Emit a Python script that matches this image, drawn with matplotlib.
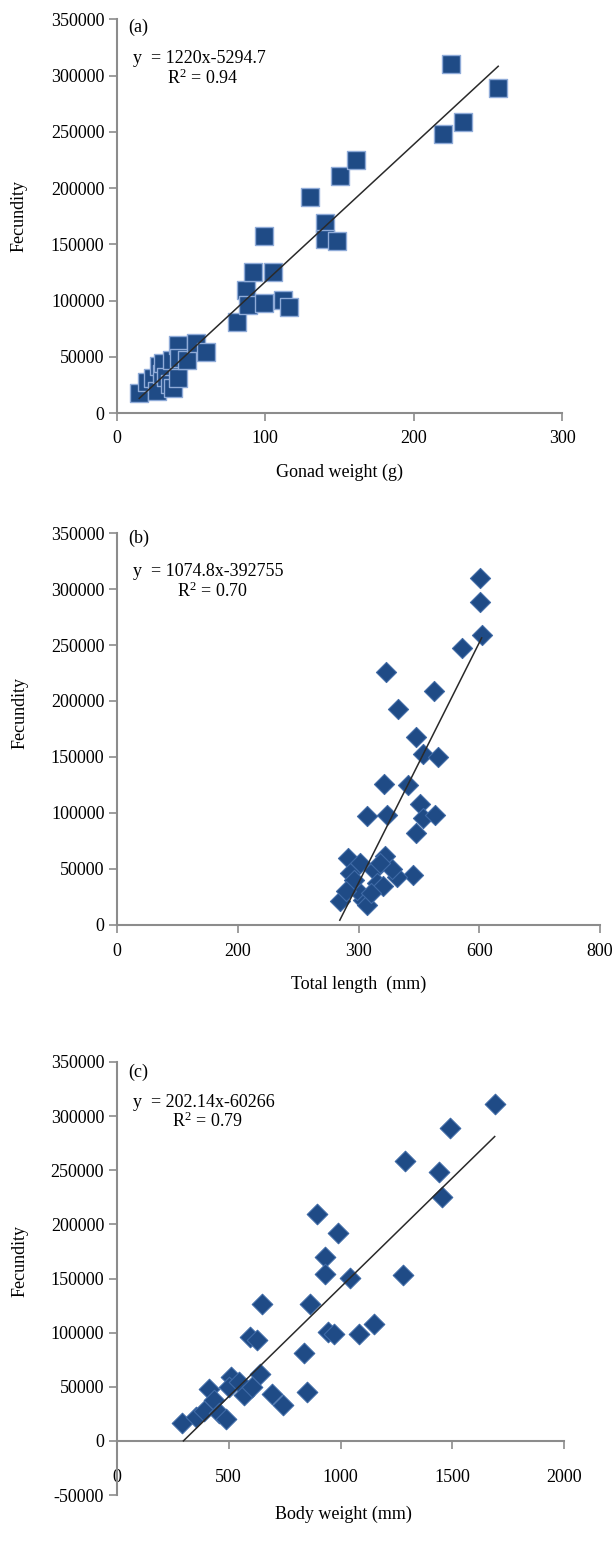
import matplotlib
matplotlib.use('Agg')
import matplotlib.pyplot as plt
import numpy as np

plt.rcParams['font.family'] = ['Liberation Serif', 'DejaVu Serif']
plt.rcParams['mathtext.fontset'] = 'custom'
plt.rcParams['mathtext.rm'] = 'Liberation Serif'
plt.rcParams['mathtext.it'] = 'Liberation Serif:italic'

# ---------------- data ----------------
# (a) Gonad weight (g) vs fecundity
gonad_weight = [15, 20, 24, 27, 28, 30, 31, 33, 36, 37, 38, 41, 41, 42, 47, 53, 60,
                81, 87, 88, 92, 99, 99, 105, 112, 116,
                130, 140, 140, 148, 150, 161, 220, 225, 233, 257]
fec_a = [17500, 28000, 30800, 20000, 42000, 35000, 44100, 32000, 26000, 47000, 22000,
         60400, 31000, 48600, 47000, 62000, 54400,
         81100, 109000, 96000, 125500, 157200, 97400, 125500, 100300, 94400,
         192100, 169000, 155100, 153000, 210700, 225300, 248400, 310500, 258700, 289200]

# (b) Total length (mm) vs fecundity
total_length = [601, 601, 604, 571, 446, 525, 466, 496, 507, 532, 443, 482, 502,
                414, 447, 507, 527, 496, 383, 402, 444, 491, 463, 386, 425, 430,
                369, 408, 397, 441, 414, 420, 455, 392, 435, 380]
fec_b = [309600, 288600, 258900, 247000, 226100, 209200, 192500, 167700, 152800, 150000,
         125400, 124500, 108200, 97000, 98000, 95300, 98200, 81800, 59500, 55000, 61000,
         44200, 42700, 46200, 49200, 37300, 20800, 22300, 31300, 34200, 17000, 28000,
         50000, 40000, 55000, 30000]

# (c) Body weight vs fecundity
body_weight = [292, 354, 391, 413, 435, 457, 487, 509, 501, 546, 568, 605, 597, 627,
               642, 649, 693, 745,
               1689, 1490, 1290, 1442, 1453, 895, 988, 929, 932, 1043, 1280, 863,
               944, 973, 1084, 1150, 838, 852]
fec_c = [16600, 21600, 27700, 48300, 37600, 25300, 20600, 59100, 49800, 54500, 42200,
         49800, 96000, 93000, 62200, 126800, 43700, 33000,
         310800, 289000, 258400, 248300, 225000, 209900, 192300, 169800, 154500, 150800,
         153600, 126800, 100600, 99100, 99100, 107700, 81600, 45200]

# regression equations (slope, intercept) and labels
fit_a = (1220.0, -5294.7)
fit_b = (1074.8, -392755.0)
fit_c = (202.14, -60266.0)
eq_a = ["y  = 1220x-5294.7", "R$^2$ = 0.94"]
eq_b = ["y  = 1074.8x-392755", "R$^2$ = 0.70"]
eq_c = ["y  = 202.14x-60266", "R$^2$ = 0.79"]

xticks_a = [0, 100, 200, 300]
xticklabels_a = ["0", "100", "200", "300"]
xticks_b = [0, 200, 400, 600, 800]
xticklabels_b = ["0", "200", "300", "600", "800"]
xticks_c = [0, 500, 1000, 1500, 2000]
xticklabels_c = ["0", "500", "1000", "1500", "2000"]
yticks_ab = list(range(0, 350001, 50000))
yticks_c = list(range(-50000, 350001, 50000))

# ---------------- style ----------------
W, H = 616, 1550
fig = plt.figure(figsize=(W / 100, H / 100), dpi=100)

AX_COL = '#8c8c8c'
FILL = '#1f4b86'
FS = 13

def px_axes(left, top, right, bottom):
    return fig.add_axes([left / W, 1 - bottom / H, (right - left) / W, (bottom - top) / H])

def style(ax, xticks, xlabels, yticks, xpad):
    for s in ['top', 'right']:
        ax.spines[s].set_visible(False)
    for s in ['left', 'bottom']:
        ax.spines[s].set_color(AX_COL)
        ax.spines[s].set_linewidth(1.5)
    ax.set_xticks(xticks)
    ax.set_xticklabels(xlabels, fontsize=FS)
    ax.set_yticks(yticks)
    ax.set_yticklabels([str(v) for v in yticks], fontsize=FS)
    ax.tick_params(axis='y', direction='out', length=5.5, width=1.2, color=AX_COL, pad=3.5)
    ax.tick_params(axis='x', direction='out', length=5.5, width=1.2, color=AX_COL, pad=xpad)
    ax.set_ylabel('Fecundity', fontsize=FS)

def fit_line(ax, xs, fit):
    m, b = fit
    x0 = max(min(xs), -b / m)
    x1 = max(xs)
    xx = np.array([x0, x1])
    ax.plot(xx, m * xx + b, color='#2a2a2a', lw=1.1, zorder=4)

def eq_text(ax, lines, x1, y1, x2, y2):
    ax.text(x1, y1, lines[0], transform=ax.transAxes, fontsize=FS, va='center', ha='left')
    ax.text(x2, y2, lines[1], transform=ax.transAxes, fontsize=FS, va='center', ha='left')

# ---------------- (a) ----------------
ax = px_axes(117, 19.3, 562, 413)
ax.scatter(gonad_weight, fec_a, marker='s', s=150, c=FILL, edgecolors='#8fabd8',
           linewidths=1.0, zorder=3, clip_on=False)
fit_line(ax, gonad_weight, fit_a)
ax.set_xlim(0, 300)
ax.set_ylim(0, 350000)
style(ax, xticks_a, xticklabels_a, yticks_ab, 7)
ax.set_xlabel('Gonad weight (g)', fontsize=FS)
ax.xaxis.set_label_coords(0.5, -0.129)
ax.yaxis.set_label_coords(-0.2, 0.5)
ax.text(0.025, 0.98, '(a)', transform=ax.transAxes, fontsize=FS, va='center', ha='left')
eq_text(ax, eq_a, 0.036, 0.901, 0.112, 0.850)

# ---------------- (b) ----------------
ax = px_axes(117, 533.3, 600, 924.5)
ax.scatter(total_length, fec_b, marker='D', s=105, c=FILL, edgecolors='#3f6aa6',
           linewidths=0.8, zorder=3, clip_on=False)
fit_line(ax, total_length, fit_b)
ax.set_xlim(0, 800)
ax.set_ylim(0, 350000)
style(ax, xticks_b, xticklabels_b, yticks_ab, 8)
ax.set_xlabel('Total length  (mm)', fontsize=FS)
ax.xaxis.set_label_coords(0.5, -0.132)
ax.yaxis.set_label_coords(-0.184, 0.54)
ax.text(0.023, 0.986, '(b)', transform=ax.transAxes, fontsize=FS, va='center', ha='left')
eq_text(ax, eq_b, 0.033, 0.902, 0.124, 0.851)

# ---------------- (c) ----------------
ax = px_axes(116.7, 1062, 564.3, 1495)
ax.scatter(body_weight, fec_c, marker='D', s=110, c=FILL, edgecolors='#3f6aa6',
           linewidths=0.8, zorder=3, clip_on=False)
fit_line(ax, body_weight, fit_c)
ax.set_xlim(0, 2000)
ax.set_ylim(-50000, 350000)
ax.spines['bottom'].set_position(('data', 0))
style(ax, xticks_c, xticklabels_c, yticks_c, 15)
ax.set_xlabel('Body weight (mm)', fontsize=FS)
ax.xaxis.set_label_coords(0.506, -0.025)
ax.yaxis.set_label_coords(-0.198, 0.54)
ax.text(0.025, 0.977, '(c)', transform=ax.transAxes, fontsize=FS, va='center', ha='left')
eq_text(ax, eq_c, 0.037, 0.907, 0.123, 0.862)

fig.savefig('out.png', dpi=100)
